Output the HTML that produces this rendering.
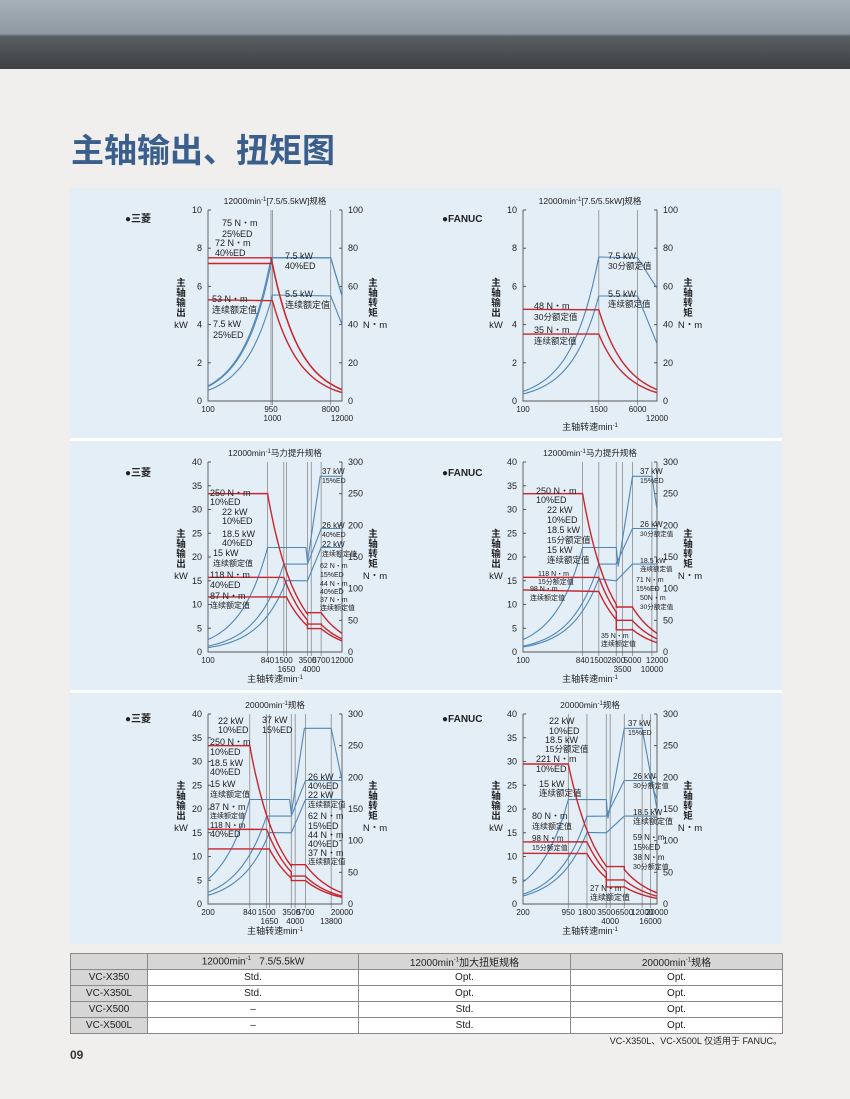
<!DOCTYPE html>
<html><head><meta charset="utf-8">
<style>
body{margin:0;width:850px;height:1099px;background:#f0efed;font-family:"Liberation Sans","Noto Sans CJK SC",sans-serif;position:relative;overflow:hidden}
.hdr{position:absolute;left:0;top:0;width:850px;height:69px;background:linear-gradient(#a6b0b8 0,#8e99a1 34px,#5a5f63 36px,#3e4143 69px)}
.title{position:absolute;left:71px;top:124px;font-size:33px;font-weight:bold;color:#3a5f8c;font-family:"Noto Sans CJK SC",sans-serif;letter-spacing:0px}
.panel{position:absolute;left:70px;top:188px;width:712px;height:756px;background:#e4eef7}
.sep{position:absolute;left:70px;width:712px;height:3px;background:#fff}
table{position:absolute;left:70px;top:953px;width:713px;border-collapse:collapse;font-size:10px}
td{border:1px solid #8a8a8a;height:15px;padding:0;text-align:center;background:#fff;color:#222}
td.g{background:#d6d6d6}
.fn{position:absolute;right:68px;top:1034px;font-size:9px;color:#222}
.pg{position:absolute;left:70px;top:1048px;font-size:12px;font-weight:bold;color:#333}
svg{position:absolute;left:0;top:0}
</style></head><body>
<div class="hdr"></div>
<div class="title">主轴输出、扭矩图</div>
<div class="panel"></div>
<div class="sep" style="top:438px"></div>
<div class="sep" style="top:690px"></div>
<svg id="s" width="850" height="1099" font-family="Liberation Sans, Noto Sans CJK SC, sans-serif"></svg>
<table>
<tr><td class="g" style="width:76px"></td><td class="g" style="width:210px">12000min<sup style="font-size:6px">-1</sup>&nbsp;&nbsp;&nbsp;7.5/5.5kW</td><td class="g" style="width:211px">12000min<sup style="font-size:6px">-1</sup>加大扭矩规格</td><td class="g">20000min<sup style="font-size:6px">-1</sup>规格</td></tr>
<tr><td class="g">VC-X350</td><td>Std.</td><td>Opt.</td><td>Opt.</td></tr>
<tr><td class="g">VC-X350L</td><td>Std.</td><td>Opt.</td><td>Opt.</td></tr>
<tr><td class="g">VC-X500</td><td>–</td><td>Std.</td><td>Opt.</td></tr>
<tr><td class="g">VC-X500L</td><td>–</td><td>Std.</td><td>Opt.</td></tr>
</table>
<div class="fn">VC-X350L、VC-X500L 仅适用于 FANUC。</div>
<div class="pg">09</div>
<script>
var S=document.getElementById('s'),out='';
function T(x,y,t,sz,anc,fw){out+='<text x="'+x+'" y="'+y+'" font-size="'+(sz||9)+'" text-anchor="'+(anc||'start')+'" fill="#222"'+(fw?' font-weight="bold"':'')+'>'+t+'</text>';}
function chart(o){
 var lg=Math.log10,X=function(n){return o.x0+(lg(n)-lg(o.nmin))/(lg(o.nmax)-lg(o.nmin))*(o.x1-o.x0)};
 var H=o.yb-o.yt,YL=function(v){return o.yb-v/o.L*H},YR=function(v){return o.yb-v/o.R*H};
 o.vl.forEach(function(n){out+='<line x1="'+X(n)+'" y1="'+o.yt+'" x2="'+X(n)+'" y2="'+(o.yb+4)+'" stroke="#8a8a8a" stroke-width="0.8"/>';});
 out+='<path d="M'+o.x0+' '+o.yt+'V'+o.yb+'H'+o.x1+'V'+o.yt+'" fill="none" stroke="#555" stroke-width="0.9"/>';
 for(var i=0;i<=o.L;i+=o.sL){var y=YL(i);T(o.x0-6,y+3,i,9,'end');out+='<line x1="'+o.x0+'" y1="'+y+'" x2="'+(o.x0+3)+'" y2="'+y+'" stroke="#555"/>';}
 for(var i=0;i<=o.R;i+=o.sR){var y=YR(i);T(o.x1+6,y+3,i,9);out+='<line x1="'+o.x1+'" y1="'+y+'" x2="'+(o.x1-3)+'" y2="'+y+'" stroke="#555"/>';}
 o.xt.forEach(function(t){T(X(t[0]),o.yb+11+t[1]*9,t[2]||t[0],8,'middle');});
 T((o.x0+o.x1)/2,o.yt-6,o.title,8.5,'middle');
 ['主','轴','输','出'].forEach(function(c,i){T(o.x0-27,o.yb-115+i*10,c,9.5,'middle',1)});T(o.x0-27,o.yb-73,'kW',9.5,'middle');
 ['主','轴','转','矩'].forEach(function(c,i){T(o.x1+31,o.yb-115+i*10,c,9.5,'middle',1)});T(o.x1+33,o.yb-73,'N・m',9.5,'middle');
 o.ser.forEach(function(s){
  var pts=[],red=s[0]=='r',Y=red?YR:YL;
  s.slice(1).forEach(function(g){
   if(g[0]=='p')pts.push([X(g[1]),Y(g[2])]);
   else{for(var k=0;k<=24;k++){var n=Math.pow(10,lg(g[2])+(lg(g[3])-lg(g[2]))*k/24);var v=g[0]=='ct'?g[1]*n/9549:g[1]*9549/n;pts.push([X(n),Y(v)]);}}
  });
  out+='<polyline points="'+pts.map(function(p){return p[0].toFixed(1)+','+p[1].toFixed(1)}).join(' ')+'" fill="none" stroke="'+(red?'#c8262c':'#4f86b8')+'" stroke-width="'+(red?1.4:1.1)+'"/>';
 });
 o.lab.forEach(function(l){T(l[0],l[1],l[2],l[3]||9);});
}
var ML=[208,342],FN=[523,657];
T(125,222,'●三菱',10,0,1);T(442,222,'●FANUC',10,0,1);
T(125,476,'●三菱',10,0,1);T(442,476,'●FANUC',10,0,1);
T(125,722,'●三菱',10,0,1);T(442,722,'●FANUC',10,0,1);
var t1='12000min<tspan font-size="6" dy="-3">-1</tspan><tspan dy="3">[7.5/5.5kW]规格</tspan>';
var t2='12000min<tspan font-size="6" dy="-3">-1</tspan><tspan dy="3">马力提升规格</tspan>';
var t3='20000min<tspan font-size="6" dy="-3">-1</tspan><tspan dy="3">规格</tspan>';
chart({x0:208,x1:342,yt:210,yb:401,nmin:100,nmax:12000,L:10,R:100,sL:2,sR:20,title:t1,vl:[950,1000,8000],
 xt:[[100,0],[950,0],[1000,1],[8000,0],[12000,1]],
 ser:[['b',['ct',75,100,955],['p',8000,7.5],['p',12000,5.5]],['b',['ct',72,100,995],['p',8000,7.5],['p',12000,5.5]],['b',['ct',53,100,1000],['p',8000,5.5],['p',12000,4]],
 ['r',['p',100,75],['cp',7.5,955,12000]],['r',['p',100,72],['cp',7.5,995,12000]],['r',['p',100,53],['cp',5.5,1000,12000]]],
 lab:[[222,226,'75 N・m'],[222,237,'25%ED'],[215,246,'72 N・m'],[215,256,'40%ED'],[285,259,'7.5 kW'],[285,269,'40%ED'],[212,302,'53 N・m'],[212,313,'连续额定值'],[285,297,'5.5 kW'],[285,308,'连续额定值'],[213,327,'7.5 kW'],[213,338,'25%ED']]});
chart({x0:523,x1:657,yt:210,yb:401,nmin:100,nmax:12000,L:10,R:100,sL:2,sR:20,title:t1,vl:[1500,6000],
 xt:[[100,0],[1500,0],[6000,0],[12000,1]],
 ser:[['b',['ct',48,100,1500],['p',6000,7.5],['p',12000,5.9]],['b',['ct',35,100,1500],['p',6000,5.5],['p',12000,3]],
 ['r',['p',100,48],['cp',7.5,1500,12000]],['r',['p',100,35],['cp',5.5,1500,12000]]],
 lab:[[608,259,'7.5 kW'],[608,269,'30分额定值',8.5],[608,297,'5.5 kW'],[608,307,'连续额定值',8.5],[534,309,'48 N・m'],[534,320,'30分额定值',8.5],[534,333,'35 N・m'],[534,344,'连续额定值',8.5]]});
T(590,430,'主轴转速min<tspan font-size="6" dy="-3">-1</tspan>',9,'middle');
chart({x0:208,x1:342,yt:462,yb:652,nmin:100,nmax:12000,L:40,R:300,sL:5,sR:50,title:t2,vl:[840,1500,1650,3500,4000,5700],
 xt:[[100,0],[840,0],[1500,0],[1650,1],[3500,0],[4000,1],[5700,0],[12000,0]],
 ser:[['b',['ct',250,100,840],['p',3300,22],['p',3500,19],['p',5500,37],['p',12000,37]],
 ['b',['ct',118,100,1500],['p',3500,18.5],['p',5700,26],['p',12000,26]],
 ['b',['ct',87,100,1650],['p',3500,15],['p',5700,22],['p',12000,22]],
 ['r',['p',100,250],['cp',22,840,3500],['p',3500,62],['p',5700,62],['cp',37,5700,12000]],
 ['r',['p',100,118],['cp',18.5,1500,3500],['p',3500,44],['p',5700,44],['cp',26,5700,12000]],
 ['r',['p',100,87],['cp',15,1650,3500],['p',3500,37],['p',5700,37],['cp',22,5700,12000]]],
 lab:[[322,474,'37 kW',8],[322,483,'15%ED',7],[210,496,'250 N・m'],[210,505,'10%ED'],[222,515,'22 kW'],[222,524,'10%ED'],[222,537,'18.5 kW'],[222,546,'40%ED'],[213,556,'15 kW'],[213,566,'连续额定值',8],[210,578,'118 N・m'],[210,588,'40%ED'],[210,599,'87 N・m'],[210,608,'连续额定值',8],
 [322,528,'26 kW',8],[322,537,'40%ED',7],[322,547,'22 kW',8],[322,556,'连续额定值',7],[320,568,'62 N・m',7],[320,577,'15%ED',7],[320,586,'44 N・m',7],[320,594,'40%ED',7],[320,602,'37 N・m',7],[320,610,'连续额定值',7]]});
chart({x0:523,x1:657,yt:462,yb:652,nmin:100,nmax:12000,L:40,R:300,sL:5,sR:50,title:t2,vl:[840,1500,2800,3500,5000,10000],
 xt:[[100,0],[840,0],[1500,0],[2800,0],[3500,1],[5000,0],[10000,1],[12000,0]],
 ser:[['b',['ct',250,100,840],['p',2800,22],['p',3000,18],['p',5000,37],['p',10000,37],['p',12000,30]],
 ['b',['ct',118,100,1500],['p',2800,18.5],['p',5000,26],['p',12000,26]],
 ['b',['ct',98,100,1500],['p',2800,15],['p',5000,18.5],['p',12000,18.5]],
 ['r',['p',100,250],['cp',22,840,2800],['p',2800,71],['p',5000,71],['cp',37,5000,12000]],
 ['r',['p',100,118],['cp',18.5,1500,2800],['p',2800,50],['p',5000,50],['cp',26,5000,12000]],
 ['r',['p',100,98],['cp',15,1500,2800],['p',2800,35],['p',5000,35],['cp',18.5,5000,12000]]],
 lab:[[640,474,'37 kW',8],[640,483,'15%ED',7],[536,494,'250 N・m'],[536,503,'10%ED'],[547,513,'22 kW'],[547,523,'10%ED'],[547,533,'18.5 kW'],[547,543,'15分额定值',8.5],[547,553,'15 kW'],[547,563,'连续额定值',8.5],
 [640,527,'26 kW',8],[640,536,'30分额定值',6.5],[538,576,'118 N・m',7],[538,584,'15分额定值',7],[530,591,'98 N・m',7],[530,600,'连续额定值',7],[640,563,'18.5 kW',7],[640,571,'连续额定值',6.5],[636,582,'71 N・m',7],[636,591,'15%ED',7],[640,600,'50N・m',7],[640,609,'30分额定值',6.5],[601,638,'35 N・m',7],[601,646,'连续额定值',7]]});
T(275,682,'主轴转速min<tspan font-size="6" dy="-3">-1</tspan>',9,'middle');T(590,682,'主轴转速min<tspan font-size="6" dy="-3">-1</tspan>',9,'middle');
chart({x0:208,x1:342,yt:714,yb:904,nmin:200,nmax:20000,L:40,R:300,sL:5,sR:50,title:t3,vl:[840,1500,1650,3500,4000,5700,13800],
 xt:[[200,0],[840,0],[1500,0],[1650,1],[3500,0],[4000,1],[5700,0],[13800,1],[20000,0]],
 ser:[['b',['ct',250,200,840],['p',3300,22],['p',3500,19],['p',5500,37],['p',13800,37],['p',20000,26]],
 ['b',['ct',118,200,1500],['p',3500,18.5],['p',5700,26],['p',20000,26]],
 ['b',['ct',87,200,1650],['p',3500,15],['p',5700,22],['p',20000,22]],
 ['r',['p',200,250],['cp',22,840,3500],['p',3500,62],['p',5700,62],['cp',37,5700,20000]],
 ['r',['p',200,118],['cp',18.5,1500,3500],['p',3500,44],['p',5700,44],['cp',26,5700,20000]],
 ['r',['p',200,87],['cp',15,1650,3500],['p',3500,37],['p',5700,37],['cp',22,5700,20000]]],
 lab:[[218,724,'22 kW'],[218,733,'10%ED'],[262,723,'37 kW'],[262,733,'15%ED'],[210,745,'250 N・m'],[210,755,'10%ED'],[210,766,'18.5 kW'],[210,775,'40%ED'],[210,787,'15 kW'],[210,797,'连续额定值',8],[210,810,'87 N・m'],[210,818,'连续额定值',7],[210,828,'118 N・m',8],[210,837,'40%ED'],
 [308,780,'26 kW'],[308,789,'40%ED'],[308,798,'22 kW'],[308,807,'连续额定值',7.5],[308,819,'62 N・m'],[308,829,'15%ED'],[308,838,'44 N・m'],[308,847,'40%ED'],[308,856,'37 N・m'],[308,864,'连续额定值',7.5]]});
chart({x0:523,x1:657,yt:714,yb:904,nmin:200,nmax:20000,L:40,R:300,sL:5,sR:50,title:t3,vl:[950,1800,3500,4000,6500,12000,16000],
 xt:[[200,0],[950,0],[1800,0],[3500,0],[4000,1],[6500,0],[12000,0],[16000,1],[20000,0]],
 ser:[['b',['ct',221,200,950],['p',3500,22],['p',3700,18],['p',6500,37],['p',12000,37],['p',20000,20]],
 ['b',['ct',98,200,1800],['p',3500,18.5],['p',6500,26],['p',16000,26],['p',20000,22]],
 ['b',['ct',80,200,1800],['p',3500,15],['p',6500,18.5],['p',20000,18.5]],
 ['r',['p',200,221],['cp',22,950,3500],['p',3500,59],['p',6500,59],['cp',37,6500,20000]],
 ['r',['p',200,98],['cp',18.5,1800,3500],['p',3500,38],['p',6500,38],['cp',26,6500,20000]],
 ['r',['p',200,80],['cp',15,1800,3500],['p',3500,27],['p',6500,27],['cp',18.5,6500,20000]]],
 lab:[[549,724,'22 kW'],[549,734,'10%ED'],[545,743,'18.5 kW'],[545,752,'15分额定值',8.5],[536,762,'221 N・m'],[536,772,'10%ED'],[539,787,'15 kW'],[539,796,'连续额定值',8.5],[532,819,'80 N・m'],[532,829,'连续额定值',8],[532,841,'98 N・m',8],[532,850,'15分额定值',7],
 [628,726,'37 kW',8],[628,735,'15%ED',7],[633,779,'26 kW',8],[633,788,'30分额定值',7],[633,815,'18.5 kW',8],[633,824,'连续额定值',8],[633,840,'59 N・m',8],[633,850,'15%ED',8],[633,860,'38 N・m',8],[633,869,'30分额定值',7],[590,891,'27 N・m',8],[590,900,'连续额定值',8]]});
T(275,934,'主轴转速min<tspan font-size="6" dy="-3">-1</tspan>',9,'middle');T(590,934,'主轴转速min<tspan font-size="6" dy="-3">-1</tspan>',9,'middle');
S.innerHTML=out;
</script>
</body></html>
